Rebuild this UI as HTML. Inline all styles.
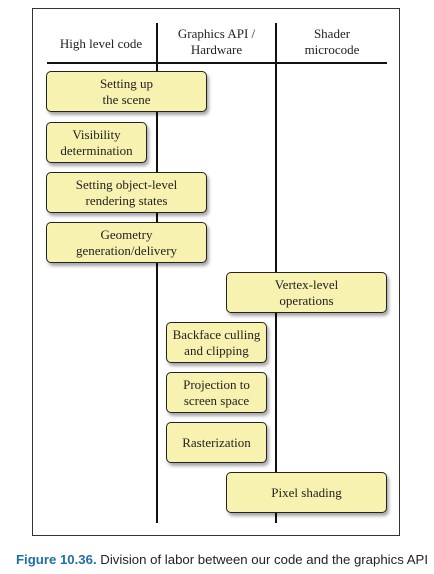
<!DOCTYPE html>
<html><head><style>
body{margin:0;width:434px;height:574px;background:#fff;position:relative;overflow:hidden;font-family:"Liberation Serif",serif;color:#222}
.frame{position:absolute;left:32px;top:8px;width:368px;height:528px;border:1px solid #333;box-sizing:border-box}
.v{position:absolute;width:2px;background:#111;top:23px;height:500px}
.h{position:absolute;left:47px;width:340px;top:62px;height:2px;background:#111}
.hd{position:absolute;font-size:13px;text-align:center;line-height:16px}
.b{position:absolute;background:#f7f2b0;border:1.5px solid #222;border-radius:5px;box-sizing:border-box;box-shadow:2px 3px 3px rgba(0,0,0,0.35);display:flex;align-items:center;justify-content:center;text-align:center;font-size:13px;line-height:16px}
.cap{position:absolute;left:16px;top:552px;font-family:"Liberation Sans",sans-serif;font-size:13.2px;white-space:nowrap;color:#222}
.cap b{color:#1d6fa5}
</style></head><body>
<div class="frame"></div>
<div class="v" style="left:156px"></div>
<div class="v" style="left:275px"></div>
<div class="h"></div>
<div class="hd" style="left:47px;width:108px;top:36px">High level code</div>
<div class="hd" style="left:158px;width:117px;top:26px">Graphics API /<br>Hardware</div>
<div class="hd" style="left:278px;width:108px;top:26px">Shader<br>microcode</div>
<div class="b" style="left:46px;top:71px;width:161px;height:41px">Setting up<br>the scene</div>
<div class="b" style="left:46px;top:122px;width:101px;height:41px">Visibility<br>determination</div>
<div class="b" style="left:46px;top:172px;width:161px;height:41px">Setting object-level<br>rendering states</div>
<div class="b" style="left:46px;top:222px;width:161px;height:41px">Geometry<br>generation/delivery</div>
<div class="b" style="left:226px;top:272px;width:161px;height:41px">Vertex-level<br>operations</div>
<div class="b" style="left:166px;top:322px;width:101px;height:41px">Backface culling<br>and clipping</div>
<div class="b" style="left:166px;top:372px;width:101px;height:41px">Projection to<br>screen space</div>
<div class="b" style="left:166px;top:422px;width:101px;height:41px">Rasterization</div>
<div class="b" style="left:226px;top:472px;width:161px;height:41px">Pixel shading</div>
<div class="cap"><b>Figure 10.36.</b> Division of labor between our code and the graphics API</div>
</body></html>
